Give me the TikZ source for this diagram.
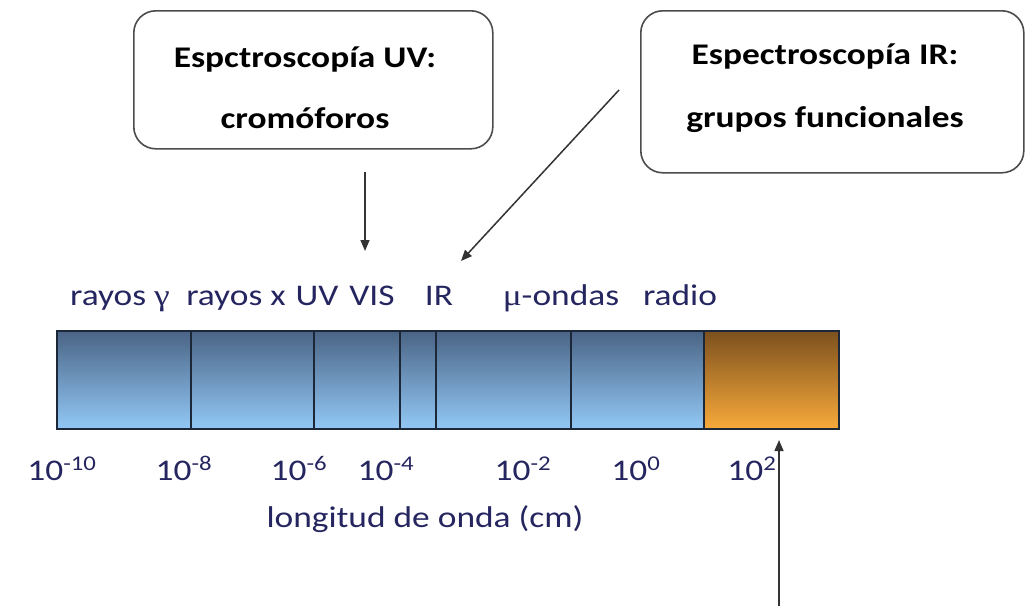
\documentclass[tikz,border=0pt]{standalone}
\usepackage{fontspec}
\usepackage{graphicx}
\setmainfont{Carlito}
\newfontfamily\grk{Liberation Serif}
\usetikzlibrary{arrows.meta}
\definecolor{navy}{HTML}{252560}
\definecolor{bluetop}{HTML}{4A6485}
\definecolor{bluebot}{HTML}{92C8F6}
\definecolor{orgtop}{HTML}{7C501E}
\definecolor{orgbot}{HTML}{F8AA3A}
\definecolor{edge}{HTML}{1C2838}
\newcommand{\wide}[1]{\scalebox{1.18}[1]{#1}}
\tikzset{
  lbl/.style={text=navy, font=\fontsize{30}{36}\selectfont, inner sep=0pt, anchor=base},
  boxtxt/.style={text=black, font=\bfseries\fontsize{30}{36}\selectfont, inner sep=0pt, anchor=base},
  callout/.style={draw=black!70, line width=1.6pt, rounded corners=22pt},
  seg/.style={draw=edge, line width=1.6pt, top color=bluetop, bottom color=bluebot},
  arr/.style={draw=black!80, line width=1.5pt, -{Triangle[length=11pt,width=9pt]}}
}
\begin{document}
\begin{tikzpicture}[x=1pt,y=-1pt]
\useasboundingbox (0,0) rectangle (1028,606);
% callout boxes
\node[callout, minimum width=359pt, minimum height=138pt, anchor=north west] (uvbox) at (133,10) {};
\node[callout, minimum width=383pt, minimum height=162pt, anchor=north west] (irbox) at (640,10) {};
\node[boxtxt] (uv1) at (305,67) {\wide{Espctroscopía UV:}};
\node[boxtxt] (uv2) at (305,128) {\wide{cromóforos}};
\node[boxtxt] (ir1) at (825,64) {\wide{Espectroscopía IR:}};
\node[boxtxt] (ir2) at (825,127) {\wide{grupos funcionales}};
% spectrum bar
\node[seg, minimum width=134pt, minimum height=98pt, anchor=north west] (s1) at (56,330) {};
\node[seg, minimum width=123pt, minimum height=98pt, anchor=north west] (s2) at (190,330) {};
\node[seg, minimum width=86pt, minimum height=98pt, anchor=north west] (s3) at (313,330) {};
\node[seg, minimum width=36pt, minimum height=98pt, anchor=north west] (s4) at (399,330) {};
\node[seg, minimum width=135pt, minimum height=98pt, anchor=north west] (s5) at (435,330) {};
\node[seg, minimum width=133pt, minimum height=98pt, anchor=north west] (s6) at (570,330) {};
\node[seg, top color=orgtop, bottom color=orgbot, minimum width=135pt, minimum height=98pt, anchor=north west] (s7) at (703,330) {};
% band labels
\node[lbl] (l1) at (120,305) {\wide{rayos {\grk γ}}};
\node[lbl] (l2) at (236,305) {\wide{rayos x}};
\node[lbl] (l3) at (317,305) {\wide{UV}};
\node[lbl] (l4) at (372,305) {\wide{VIS}};
\node[lbl] (l5) at (439,305) {\wide{IR}};
\node[lbl] (l6) at (561,305) {\wide{{\grk μ}-ondas}};
\node[lbl] (l7) at (680,305) {\wide{radio}};
% wavelength ticks
\node[lbl] (w1) at (62,480) {\wide{10\textsuperscript{-10}}};
\node[lbl] (w2) at (184,480) {\wide{10\textsuperscript{-8}}};
\node[lbl] (w3) at (299,480) {\wide{10\textsuperscript{-6}}};
\node[lbl] (w4) at (386,480) {\wide{10\textsuperscript{-4}}};
\node[lbl] (w5) at (523,480) {\wide{10\textsuperscript{-2}}};
\node[lbl] (w6) at (636,480) {\wide{10\textsuperscript{0}}};
\node[lbl] (w7) at (752,480) {\wide{10\textsuperscript{2}}};
\node[lbl] (axis) at (425,527) {\wide{longitud de onda (cm)}};
% arrows
\coordinate (uvs) at (365,172);
\coordinate (uvt) at (365,251);
\coordinate (irs) at (619,90);
\coordinate (irt) at (461,261);
\coordinate (rds) at (779,606);
\coordinate (rdt) at (779,440);
\draw[arr] (uvs) -- (uvt);
\draw[arr] (irs) -- (irt);
\draw[arr] (rds) -- (rdt);
\end{tikzpicture}
\end{document}
